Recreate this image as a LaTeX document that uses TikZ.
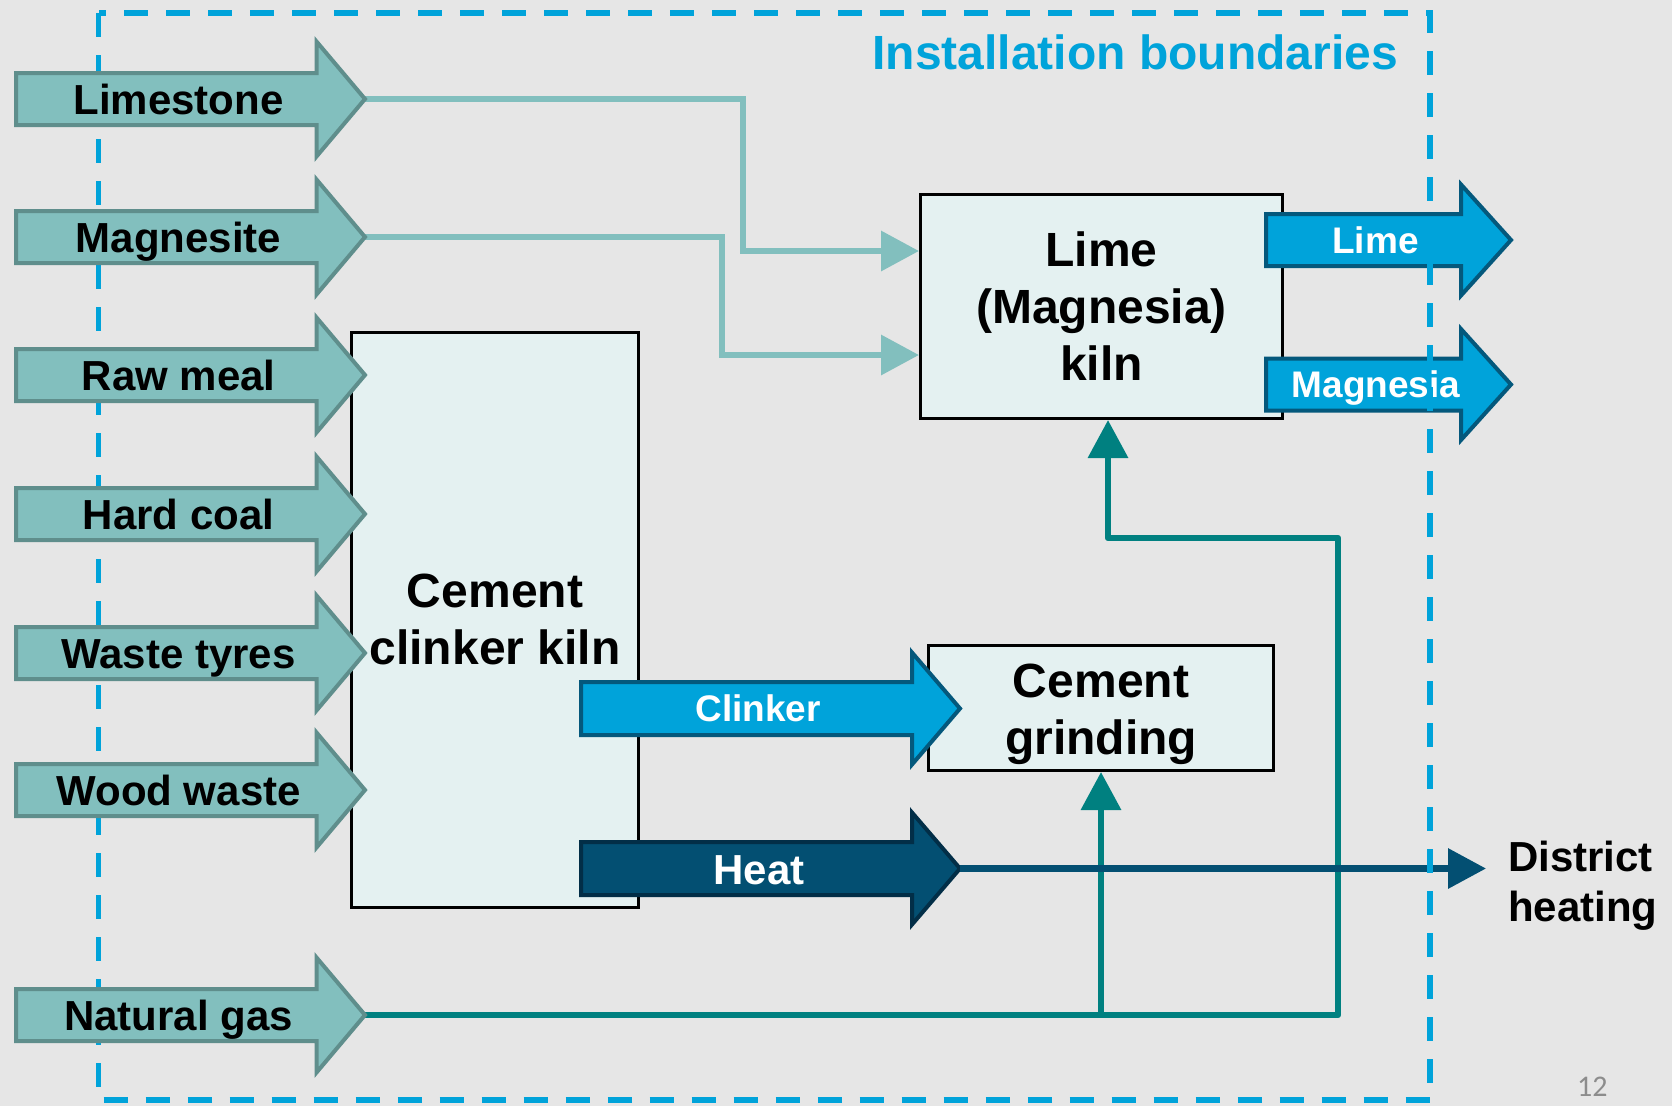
\documentclass[tikz,border=0pt]{standalone}
\usepackage{fontspec}
\setmainfont{Liberation Sans}
\newfontfamily\numfont{Carlito}
\usetikzlibrary{arrows.meta}
\definecolor{bgGray}{HTML}{E6E6E6}
\definecolor{inFill}{HTML}{82BFBE}
\definecolor{inDraw}{HTML}{5F8E8C}
\definecolor{gasTeal}{HTML}{008080}
\definecolor{outFill}{HTML}{00A3DA}
\definecolor{outDraw}{HTML}{04587C}
\definecolor{heatFill}{HTML}{034F72}
\definecolor{heatDraw}{HTML}{022E47}
\definecolor{boxFill}{HTML}{E4F1F1}
\definecolor{boundCol}{HTML}{00A3DA}
\definecolor{pageNum}{HTML}{8C8C8C}
% #1 style, #2 tip name, #3 x left, #4 x head base, #5 x tip, #6 y centre, #7 body half, #8 head half
\newcommand{\fatarrow}[8]{%
  \draw[#1] (#3,#6-#7) -- (#4,#6-#7) -- (#4,#6-#8) -- (#5,#6) -- (#4,#6+#8) -- (#4,#6+#7) -- (#3,#6+#7) -- cycle;
  \coordinate (#2) at (#5,#6);}
\tikzset{
  inarrow/.style={fill=inFill, draw=inDraw, line width=4pt, line join=miter},
  outarrow/.style={fill=outFill, draw=outDraw, line width=4pt, line join=miter},
  heatarrow/.style={fill=heatFill, draw=heatDraw, line width=4pt, line join=miter},
  inlabel/.style={font=\fontsize{42}{50}\selectfont\bfseries, text=black, inner sep=0pt, anchor=base},
  outlabel/.style={font=\fontsize{37}{44}\selectfont\bfseries, text=white, inner sep=0pt, anchor=base},
  heatlabel/.style={font=\fontsize{42}{50}\selectfont\bfseries, text=white, inner sep=0pt, anchor=base},
  procbox/.style={draw=black, fill=boxFill, line width=3pt, align=center,
    font=\fontsize{48}{57}\selectfont\bfseries, inner sep=0pt},
  boxtext/.style={align=center, font=\fontsize{48}{57}\selectfont\bfseries, inner sep=0pt},
  lightconn/.style={draw=inFill, line width=6.5pt, -{Triangle[length=38pt,width=39pt]}},
  gasconn/.style={draw=gasTeal, line width=6.5pt, line join=round, -{Triangle[length=38pt,width=39pt]}},
  heatconn/.style={draw=heatFill, line width=6.5pt, -{Triangle[length=38pt,width=39pt]}},
  boundary/.style={draw=boundCol, line width=5.5pt, dash pattern=on 24pt off 18pt},
}
\begin{document}
\begin{tikzpicture}[x=1pt, y=-1pt]
\useasboundingbox (0,0) rectangle (1672,1106);
\fill[bgGray] (0,0) rectangle (1672,1106);

% process boxes
\node[procbox, minimum width=287pt, minimum height=575pt] (clinkerkiln) at (495,619.5) {Cement\\clinker kiln};
\node[procbox, minimum width=362pt, minimum height=224pt] (limekiln) at (1101.5,306.5) {Lime\\(Magnesia)\\kiln};
\node[procbox, minimum width=345pt, minimum height=125pt] (grinding) at (1101,708) {};
\node[boxtext] (grindingtext) at (1101,714) {Cement\\grinding};

% tip coordinates of the input arrows (arrows drawn later, on top)
\coordinate (limestone) at (365,99);
\coordinate (magnesite) at (365,237);
\coordinate (naturalgas) at (365,1015);

% connectors
\coordinate (lsturn) at (743,251);
\coordinate (mgturn) at (722,355);
\draw[lightconn] (limestone) -| (lsturn) -- (lsturn -| limekiln.west);
\draw[lightconn] (magnesite) -| (mgturn) -- (mgturn -| limekiln.west);

\coordinate (gasA) at (1338,1015);
\coordinate (gasB) at (1338,538);
\coordinate (gasC) at (1108,538);
\coordinate (gasD) at (1101,1015);
\draw[gasconn] (naturalgas) -- (gasA) -- (gasB) -- (gasC) -- (gasC |- limekiln.south);
\draw[gasconn] (gasD) -- (grinding.south);

% output arrows
\fatarrow{outarrow}{limetip}{1266}{1461}{1511}{240}{26}{55.5}
\node[outlabel] (limelbl) at (1375.5,253) {Lime};
\fatarrow{outarrow}{magnesiatip}{1266}{1461}{1511}{384.5}{26}{55.5}
\node[outlabel] (magnesialbl) at (1376,397.5) {Magnesia};
\fatarrow{outarrow}{clinkertip}{581}{912}{960}{708.5}{26.5}{56}
\node[outlabel] (clinkerlbl) at (758,721.5) {Clinker};
\fatarrow{heatarrow}{heattip}{581}{912}{960}{868.5}{26.5}{56}
\node[heatlabel] (heatlbl) at (759,884.5) {Heat};

% district heating
\node[font=\fontsize{42}{50}\selectfont\bfseries, align=left, inner sep=0pt, anchor=west] (district) at (1508,886) {District\\heating};
\draw[heatconn, shorten >=22pt] (heattip) -- (heattip -| district.west);

% installation boundary
\draw[boundary] (98.5,13) rectangle (1430,1100);
\node[font=\fontsize{48}{57}\selectfont\bfseries, text=boundCol, inner sep=0pt, anchor=base east] (boundlbl) at (1398,69) {Installation boundaries};

% input arrows
\fatarrow{inarrow}{t1}{16}{316.5}{365}{99}{26}{57.5}
\node[inlabel] (lbl1) at (178.6,114) {Limestone};
\fatarrow{inarrow}{t2}{16}{316.5}{365}{237}{26}{57.5}
\node[inlabel] (lbl2) at (178.6,252) {Magnesite};
\fatarrow{inarrow}{t3}{16}{316.5}{365}{375}{26}{57.5}
\node[inlabel] (lbl3) at (178.6,390) {Raw meal};
\fatarrow{inarrow}{t4}{16}{316.5}{365}{514}{26}{57.5}
\node[inlabel] (lbl4) at (178.6,529) {Hard coal};
\fatarrow{inarrow}{t5}{16}{316.5}{365}{653}{26}{57.5}
\node[inlabel] (lbl5) at (178.6,668) {Waste tyres};
\fatarrow{inarrow}{t6}{16}{316.5}{365}{790}{26}{57.5}
\node[inlabel] (lbl6) at (178.6,805) {Wood waste};
\fatarrow{inarrow}{t7}{16}{316.5}{365}{1015}{26}{57.5}
\node[inlabel] (lbl7) at (178.6,1030) {Natural gas};

% page number
\node[font=\fontsize{30}{36}\selectfont\numfont, text=pageNum, inner sep=0pt, anchor=base west] (pagenum) at (1577,1096) {12};
\end{tikzpicture}
\end{document}
